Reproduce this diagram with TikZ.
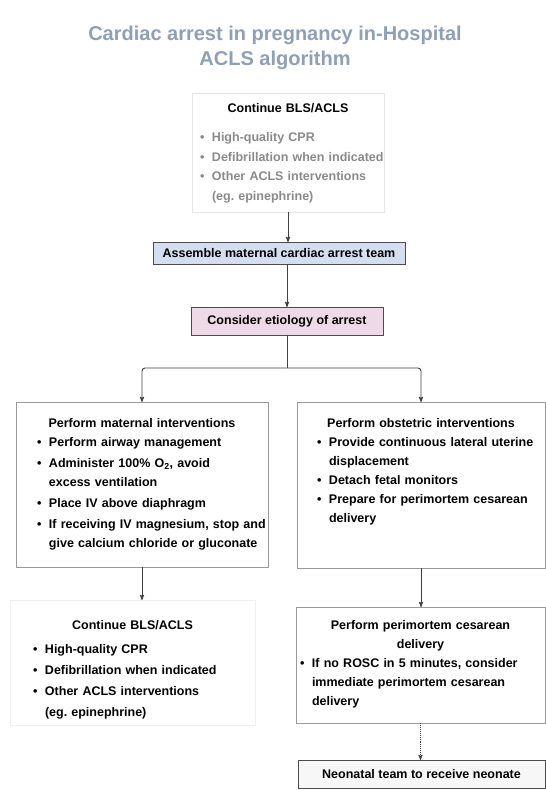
\documentclass[tikz,border=0pt]{standalone}
\usepackage{fontspec}
\setmainfont{Liberation Sans}
\usepackage{tikz}
\usetikzlibrary{arrows, positioning}

\definecolor{titleblue}{HTML}{8DA0B6}
\definecolor{teamblue}{HTML}{D5DDF1}
\definecolor{causepink}{HTML}{EEDAE7}
\definecolor{itemgray}{HTML}{8A8A8A}

\newcommand{\bitem}[1]{\makebox[12pt][l]{\textbullet}\mbox{#1}}
\newcommand{\bcont}[1]{\hspace*{12pt}\mbox{#1}}

\begin{document}
\begin{tikzpicture}[x=1pt,y=-1pt,>=stealth',
                    font=\bfseries\fontsize{12.5}{19}\selectfont]
  \tikzstyle{box}=[draw=black!40,fill=white,rectangle,anchor=north,
                   align=left,inner ysep=0pt]
  \tikzstyle{bar}=[draw=black!70,rectangle,anchor=north,inner sep=0pt]
  \tikzstyle{line}=[draw=black!75,line width=0.9pt]

  \useasboundingbox (0,0) rectangle (546,790);

  \node[font=\bfseries\fontsize{20}{25}\selectfont,text=titleblue,
        align=center] (title) at (275,48)
        {Cardiac arrest in pregnancy in-Hospital\\ACLS algorithm};

  \node[box,draw=black!10,text width=176pt,inner xsep=8pt,
        text height=19.5pt,text depth=99.5pt,
        font=\bfseries\fontsize{12.5}{19.5}\selectfont] (contTop) at (288,93)
        {{\centering Continue BLS/ACLS\par}\vspace{9.5pt}\color{itemgray}%
         \bitem{High-quality CPR}\\
         \bitem{Defibrillation when indicated}\\
         \bitem{Other ACLS interventions}\\
         \bcont{(eg.\ epinephrine)}};

  \node[bar,fill=teamblue,minimum width=252pt,minimum height=22pt]
        (assemble) at (279,242) {Assemble maternal cardiac arrest team};
  \node[bar,fill=causepink,minimum width=192pt,minimum height=28pt]
        (consider) at (287,307) {Consider etiology of arrest};

  \node[box,text width=210pt,inner xsep=21pt,
        text height=25.5pt,text depth=139.5pt] (maternal) at (142,402)
        {{\centering Perform maternal interventions\par}%
         \bitem{Perform airway management}\\[2pt]
         \bitem{Administer 100\% O\textsubscript{2}, avoid}\\
         \bcont{excess ventilation}\\[2pt]
         \bitem{Place IV above diaphragm}\\[2pt]
         \bitem{If receiving IV magnesium, stop and}\\
         \bcont{give calcium chloride or gluconate}};

  \node[box,text width=208pt,inner xsep=20pt,
        text height=25.5pt,text depth=140.5pt] (obstetric) at (421,402)
        {{\centering Perform obstetric interventions\par}%
         \bitem{Provide continuous lateral uterine}\\
         \bcont{displacement}\\
         \bitem{Detach fetal monitors}\\
         \bitem{Prepare for perimortem cesarean}\\
         \bcont{delivery}};

  \node[box,draw=black!6,text width=199pt,inner xsep=23pt,
        text height=29.5pt,text depth=95.5pt,
        font=\bfseries\fontsize{12.5}{21}\selectfont] (contLow) at (132.5,600)
        {{\centering Continue BLS/ACLS\par}\vspace{3pt}%
         \bitem{High-quality CPR}\\
         \bitem{Defibrillation when indicated}\\
         \bitem{Other ACLS interventions}\\
         \bcont{(eg.\ epinephrine)}};

  \node[box,text width=241pt,inner xsep=4pt,
        text height=22.5pt,text depth=93.5pt] (perimortem) at (420.5,607)
        {{\centering Perform perimortem cesarean\\delivery\par}%
         \bitem{If no ROSC in 5 minutes, consider}\\
         \bcont{immediate perimortem cesarean}\\
         \bcont{delivery}};

  \node[bar,fill=black!3,minimum width=247pt,minimum height=28pt]
        (neonatal) at (421.5,760) {Neonatal team to receive neonate};

  \coordinate (split) at (287,368);

  \draw[line,->] (contTop.south) -- (contTop.south |- assemble.north);
  \draw[line,->] (consider.north |- assemble.south) -- (consider.north);
  \draw[line] (consider.south) -- (split);
  \draw[line,->,rounded corners=3pt] (split) -| (maternal.north);
  \draw[line,->,rounded corners=3pt] (split) -| (obstetric.north);
  \draw[line,->] (maternal.south) -- (maternal.south |- contLow.north);
  \draw[line,->] (obstetric.south) -- (obstetric.south |- perimortem.north);
  \draw[line,->,densely dotted] (perimortem.south)
        -- (perimortem.south |- neonatal.north);
\end{tikzpicture}
\end{document}
